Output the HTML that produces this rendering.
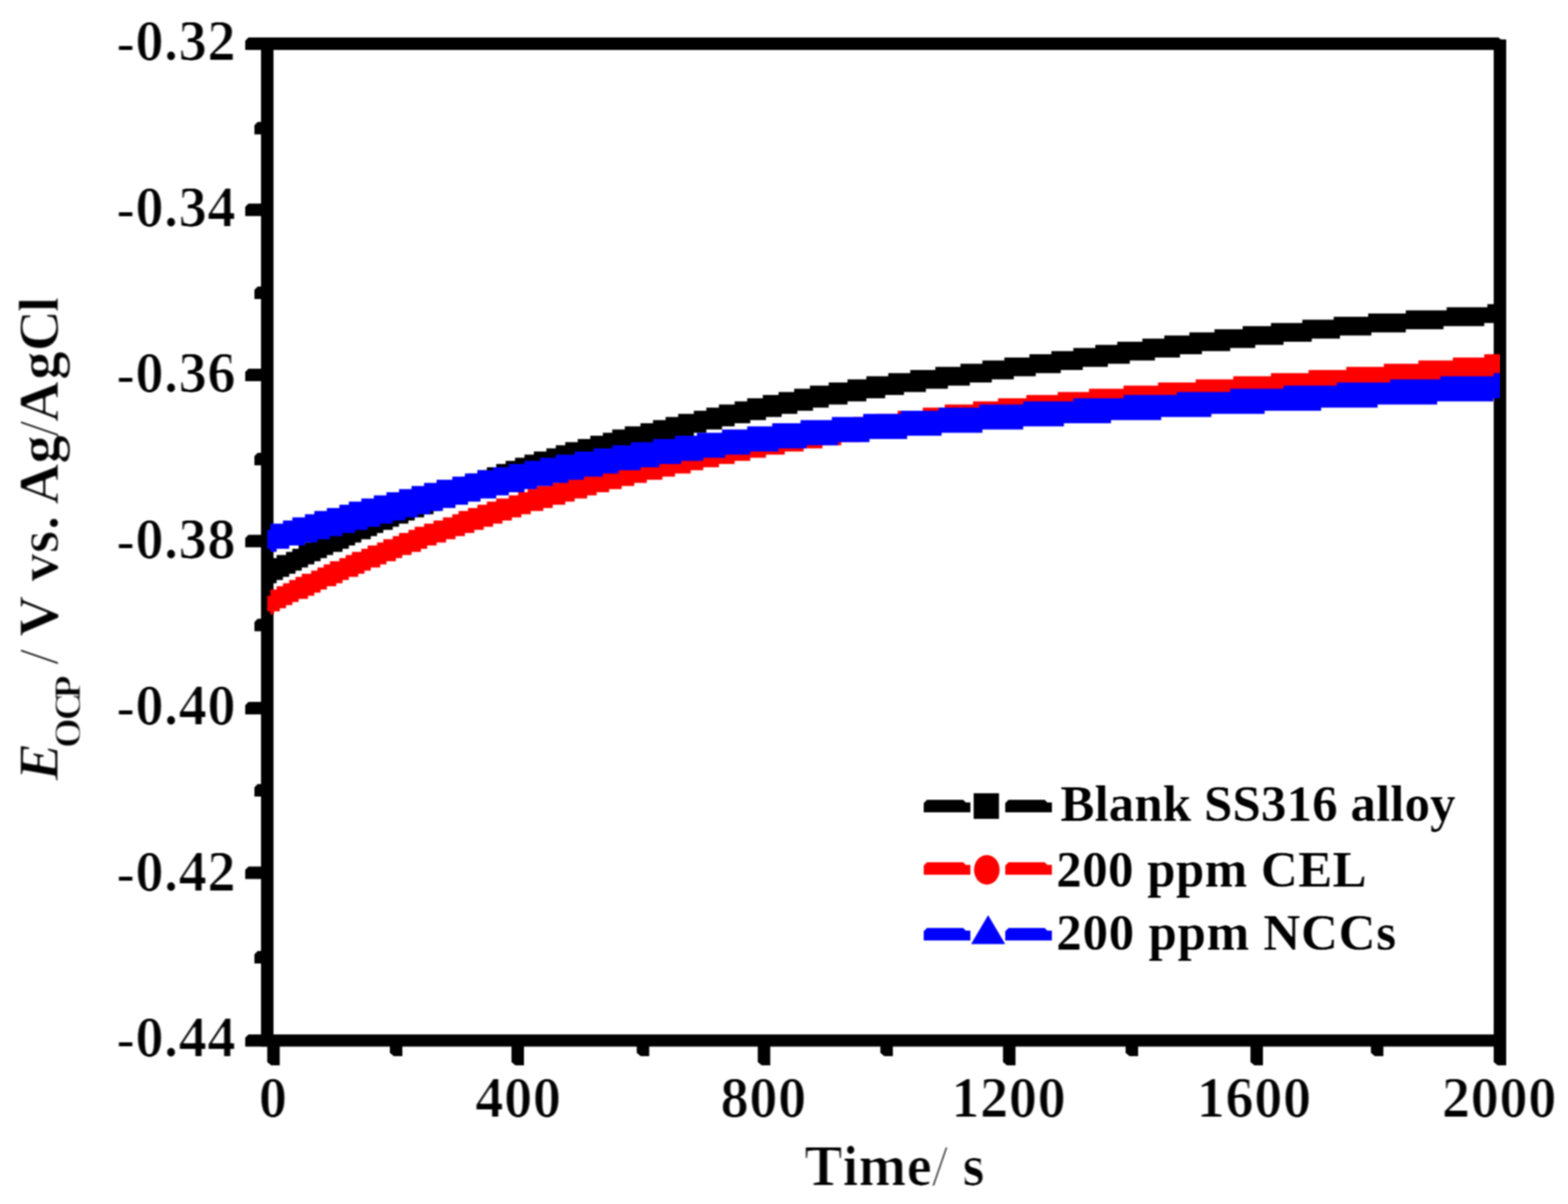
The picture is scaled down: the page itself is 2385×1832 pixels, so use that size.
<!DOCTYPE html>
<html lang="en"><head><meta charset="utf-8"><title>OCP vs time</title>
<style>
html,body{margin:0;padding:0;background:#fff}
body{width:2385px;height:1832px}
svg{display:block}
text{font-family:"Liberation Serif",serif;font-weight:bold;fill:#000;font-kerning:none;font-variant-ligatures:none;white-space:pre}
.soft{filter:url(#soft)}
.softL{filter:url(#softL)}
.soft2{filter:url(#soft2)}
.r{font-weight:normal}
.i{font-style:italic}
</style></head><body>
<svg width="2385" height="1832" viewBox="0 0 2385 1832" role="img" aria-label="Open circuit potential versus time">
<defs>
<filter id="soft" x="-5%" y="-20%" width="110%" height="140%" color-interpolation-filters="sRGB"><feGaussianBlur stdDeviation="1.4 0.45"/><feComponentTransfer><feFuncA type="linear" slope="2" intercept="-0.98"/></feComponentTransfer><feGaussianBlur stdDeviation="1"/></filter>
<filter id="softL" x="-5%" y="-20%" width="110%" height="140%" color-interpolation-filters="sRGB"><feGaussianBlur stdDeviation="1 0.45"/><feComponentTransfer><feFuncA type="linear" slope="1.8" intercept="-0.55"/></feComponentTransfer><feGaussianBlur stdDeviation="1"/></filter>
<filter id="soft2" x="-20%" y="-5%" width="140%" height="110%" color-interpolation-filters="sRGB"><feGaussianBlur stdDeviation="1"/><feComponentTransfer><feFuncA type="linear" slope="1.8" intercept="-0.8"/></feComponentTransfer><feGaussianBlur stdDeviation="1"/></filter>
<filter id="soft3" filterUnits="userSpaceOnUse" x="0" y="0" width="2385" height="1832" color-interpolation-filters="sRGB"><feGaussianBlur stdDeviation="1"/></filter>
<clipPath id="plotclip"><rect x="404.5" y="66.5" width="1877" height="1516.5"/></clipPath>
</defs>
<rect x="0" y="0" width="2385" height="1832" fill="#fff"/>
<g id="axes" fill="#000" stroke="none" filter="url(#soft3)">
<polygon points="378,57 2279,57 2283,60 2283,76 373,76 373,62"/>
<polygon points="378,1574 2291,1574 2291,1592.5 373,1592.5 373,1579"/>
<rect x="397" y="57" width="19" height="1535.5"/>
<polygon points="2272,60 2291,60 2291,1621 2278,1621 2272,1616"/>
<polygon points="392,185.5 399,185.5 399,204.5 387,204.5 387,190.5"/>
<polygon points="378,309.8 399,309.8 399,328.8 373,328.8 373,314.8"/>
<polygon points="392,436.1 399,436.1 399,455.1 387,455.1 387,441.1"/>
<polygon points="378,561 399,561 399,580 373,580 373,566"/>
<polygon points="392,688.9 399,688.9 399,707.9 387,707.9 387,693.9"/>
<polygon points="378,813.7 399,813.7 399,832.7 373,832.7 373,818.7"/>
<polygon points="392,941.6 399,941.6 399,960.6 387,960.6 387,946.6"/>
<polygon points="378,1068 399,1068 399,1087 373,1087 373,1073"/>
<polygon points="392,1193 399,1193 399,1212 387,1212 387,1198"/>
<polygon points="378,1318.5 399,1318.5 399,1337.5 373,1337.5 373,1323.5"/>
<polygon points="392,1447.1 399,1447.1 399,1466.1 387,1466.1 387,1452.1"/>
<polygon points="406.5,1583 425.5,1583 425.5,1621 412.5,1621 406.5,1616"/>
<polygon points="593,1583 612,1583 612,1607 599,1607 593,1602"/>
<polygon points="778,1583 797,1583 797,1621 784,1621 778,1616"/>
<polygon points="968.5,1583 987.5,1583 987.5,1607 974.5,1607 968.5,1602"/>
<polygon points="1152.6,1583 1171.6,1583 1171.6,1621 1158.6,1621 1152.6,1616"/>
<polygon points="1339.1,1583 1358.1,1583 1358.1,1607 1345.1,1607 1339.1,1602"/>
<polygon points="1525.6,1583 1544.6,1583 1544.6,1621 1531.6,1621 1525.6,1616"/>
<polygon points="1712.1,1583 1731.1,1583 1731.1,1607 1718.1,1607 1712.1,1602"/>
<polygon points="1902,1583 1921,1583 1921,1621 1908,1621 1902,1616"/>
<polygon points="2085.2,1583 2104.2,1583 2104.2,1607 2091.2,1607 2085.2,1602"/>
</g>
<g id="curves" clip-path="url(#plotclip)" filter="url(#soft3)">
<path fill="#000000" d="M406.5,854.0 L411.3,854.0 L411.3,849.2 L420.8,849.2 L420.8,844.4 L435.1,844.4 L435.1,839.7 L444.7,839.7 L444.7,834.9 L454.2,834.9 L454.2,830.1 L463.8,830.1 L463.8,825.4 L473.3,825.4 L473.3,820.6 L482.9,820.6 L482.9,815.8 L497.2,815.8 L497.2,811.0 L506.7,811.0 L506.7,806.3 L516.2,806.3 L516.2,801.5 L525.8,801.5 L525.8,796.7 L535.3,796.7 L535.3,792.0 L549.6,792.0 L549.6,787.2 L559.2,787.2 L559.2,782.4 L568.7,782.4 L568.7,777.6 L583.0,777.6 L583.0,772.9 L592.6,772.9 L592.6,768.1 L602.1,768.1 L602.1,763.3 L616.4,763.3 L616.4,758.6 L626.0,758.6 L626.0,753.8 L640.3,753.8 L640.3,749.0 L649.8,749.0 L649.8,744.2 L664.1,744.2 L664.1,739.5 L673.7,739.5 L673.7,734.7 L688.0,734.7 L688.0,729.9 L702.3,729.9 L702.3,725.2 L711.9,725.2 L711.9,720.4 L726.2,720.4 L726.2,715.6 L740.5,715.6 L740.5,710.9 L754.8,710.9 L754.8,706.1 L769.1,706.1 L769.1,701.3 L783.4,701.3 L783.4,696.5 L797.7,696.5 L797.7,691.8 L812.0,691.8 L812.0,687.0 L831.1,687.0 L831.1,682.2 L845.4,682.2 L845.4,677.5 L859.8,677.5 L859.8,672.7 L878.8,672.7 L878.8,667.9 L897.9,667.9 L897.9,663.1 L917.0,663.1 L917.0,658.4 L931.3,658.4 L931.3,653.6 L950.4,653.6 L950.4,648.8 L974.2,648.8 L974.2,644.1 L993.3,644.1 L993.3,639.3 L1012.4,639.3 L1012.4,634.5 L1031.5,634.5 L1031.5,629.8 L1055.4,629.8 L1055.4,625.0 L1074.4,625.0 L1074.4,620.2 L1093.5,620.2 L1093.5,615.4 L1117.4,615.4 L1117.4,610.7 L1136.5,610.7 L1136.5,605.9 L1160.3,605.9 L1160.3,601.1 L1184.2,601.1 L1184.2,596.4 L1208.0,596.4 L1208.0,591.6 L1231.9,591.6 L1231.9,586.8 L1260.5,586.8 L1260.5,582.0 L1289.1,582.0 L1289.1,577.3 L1317.7,577.3 L1317.8,572.5 L1351.1,572.5 L1351.1,567.7 L1384.5,567.7 L1384.5,563.0 L1422.7,563.0 L1422.7,558.2 L1460.9,558.2 L1460.9,553.4 L1494.3,553.4 L1494.3,548.6 L1527.7,548.6 L1527.7,543.9 L1565.8,543.9 L1565.8,539.1 L1599.2,539.1 L1599.2,534.3 L1632.6,534.3 L1632.6,529.6 L1666.0,529.6 L1666.0,524.8 L1699.4,524.8 L1699.4,520.0 L1737.6,520.0 L1737.6,515.2 L1771.0,515.2 L1771.0,510.5 L1809.1,510.5 L1809.1,505.7 L1847.3,505.7 L1847.3,500.9 L1890.2,500.9 L1890.2,496.2 L1933.2,496.2 L1933.2,491.4 L1980.9,491.4 L1980.9,486.6 L2028.6,486.6 L2028.6,481.9 L2081.1,481.9 L2081.1,477.1 L2138.3,477.1 L2138.3,472.3 L2200.4,472.3 L2200.4,467.5 L2262.4,467.5 L2262.4,462.8 L2286.2,462.8 L2286.2,491.4 L2257.6,491.4 L2257.6,496.2 L2195.6,496.2 L2195.6,500.9 L2138.3,500.9 L2138.3,505.7 L2085.9,505.7 L2085.9,510.5 L2038.1,510.5 L2038.1,515.2 L1995.2,515.2 L1995.2,520.0 L1952.3,520.0 L1952.3,524.8 L1909.3,524.8 L1909.3,529.6 L1871.2,529.6 L1871.2,534.3 L1828.2,534.3 L1828.2,539.1 L1794.8,539.1 L1794.8,543.9 L1756.7,543.9 L1756.7,548.6 L1718.5,548.6 L1718.5,553.4 L1685.1,553.4 L1685.1,558.2 L1646.9,558.2 L1646.9,563.0 L1613.5,563.0 L1613.5,567.7 L1575.4,567.7 L1575.4,572.5 L1542.0,572.5 L1542.0,577.3 L1508.6,577.3 L1508.6,582.0 L1475.2,582.0 L1475.2,586.8 L1441.8,586.8 L1441.8,591.6 L1408.4,591.6 L1408.4,596.4 L1375.0,596.4 L1375.0,601.1 L1346.4,601.1 L1346.4,605.9 L1317.8,605.9 L1317.7,610.7 L1289.1,610.7 L1289.1,615.4 L1260.5,615.4 L1260.5,620.2 L1236.6,620.2 L1236.6,625.0 L1212.8,625.0 L1212.8,629.8 L1188.9,629.8 L1188.9,634.5 L1165.1,634.5 L1165.1,639.3 L1141.2,639.3 L1141.2,644.1 L1117.4,644.1 L1117.4,648.8 L1098.3,648.8 L1098.3,653.6 L1074.4,653.6 L1074.4,658.4 L1055.4,658.4 L1055.4,663.1 L1036.3,663.1 L1036.3,667.9 L1017.2,667.9 L1017.2,672.7 L998.1,672.7 L998.1,677.5 L979.0,677.5 L979.0,682.2 L959.9,682.2 L959.9,687.0 L940.9,687.0 L940.9,691.8 L921.8,691.8 L921.8,696.5 L907.5,696.5 L907.5,701.3 L888.4,701.3 L888.4,706.1 L874.1,706.1 L874.1,710.9 L855.0,710.9 L855.0,715.6 L840.7,715.6 L840.7,720.4 L826.4,720.4 L826.4,725.2 L812.0,725.2 L812.0,729.9 L793.0,729.9 L793.0,734.7 L778.6,734.7 L778.6,739.5 L764.3,739.5 L764.3,744.2 L750.0,744.2 L750.0,749.0 L735.7,749.0 L735.7,753.8 L721.4,753.8 L721.4,758.6 L707.1,758.6 L707.1,763.3 L697.5,763.3 L697.5,768.1 L683.2,768.1 L683.2,772.9 L668.9,772.9 L668.9,777.6 L659.4,777.6 L659.4,782.4 L645.1,782.4 L645.1,787.2 L630.8,787.2 L630.8,792.0 L621.2,792.0 L621.2,796.7 L606.9,796.7 L606.9,801.5 L597.4,801.5 L597.4,806.3 L583.0,806.3 L583.0,811.0 L573.5,811.0 L573.5,815.8 L564.0,815.8 L564.0,820.6 L549.6,820.6 L549.6,825.4 L540.1,825.4 L540.1,830.1 L530.6,830.1 L530.6,834.9 L521.0,834.9 L521.0,839.7 L506.7,839.7 L506.7,844.4 L497.2,844.4 L497.2,849.2 L487.6,849.2 L487.6,854.0 L478.1,854.0 L478.1,858.8 L468.5,858.8 L468.5,863.5 L459.0,863.5 L459.0,868.3 L449.5,868.3 L449.5,873.1 L439.9,873.1 L439.9,877.8 L430.4,877.8 L430.4,882.6 L420.8,882.6 L420.8,887.4 L411.3,887.4 L411.3,892.1 L406.5,892.1Z"/>
<path fill="#ff0000" d="M406.5,906.5 L411.3,906.5 L411.3,896.9 L420.8,896.9 L420.8,892.1 L430.4,892.1 L430.4,887.4 L439.9,887.4 L439.9,882.6 L449.5,882.6 L449.5,877.8 L459.0,877.8 L459.0,873.1 L473.3,873.1 L473.3,868.3 L482.9,868.3 L482.9,863.5 L492.4,863.5 L492.4,858.8 L501.9,858.8 L501.9,854.0 L516.2,854.0 L516.2,849.2 L525.8,849.2 L525.8,844.4 L535.3,844.4 L535.3,839.7 L549.6,839.7 L549.6,834.9 L559.2,834.9 L559.2,830.1 L573.5,830.1 L573.5,825.4 L583.0,825.4 L583.0,820.6 L597.4,820.6 L597.4,815.8 L606.9,815.8 L606.9,811.0 L621.2,811.0 L621.2,806.3 L630.8,806.3 L630.8,801.5 L645.1,801.5 L645.1,796.7 L659.4,796.7 L659.4,792.0 L673.7,792.0 L673.7,787.2 L688.0,787.2 L688.0,782.4 L697.5,782.4 L697.5,777.6 L711.9,777.6 L711.9,772.9 L726.2,772.9 L726.2,768.1 L740.5,768.1 L740.5,763.3 L754.8,763.3 L754.8,758.6 L773.9,758.6 L773.9,753.8 L788.2,753.8 L788.2,749.0 L802.5,749.0 L802.5,744.2 L816.8,744.2 L816.8,739.5 L835.9,739.5 L835.9,734.7 L850.2,734.7 L850.2,729.9 L869.3,729.9 L869.3,725.2 L883.6,725.2 L883.6,720.4 L902.7,720.4 L902.7,715.6 L921.8,715.6 L921.8,710.9 L940.9,710.9 L940.9,706.1 L959.9,706.1 L959.9,701.3 L979.0,701.3 L979.0,696.5 L998.1,696.5 L998.1,691.8 L1022.0,691.8 L1022.0,687.0 L1041.0,687.0 L1041.0,682.2 L1064.9,682.2 L1064.9,677.5 L1084.0,677.5 L1084.0,672.7 L1107.8,672.7 L1107.8,667.9 L1131.7,667.9 L1131.7,663.1 L1160.3,663.1 L1160.3,658.4 L1184.2,658.4 L1184.2,653.6 L1212.8,653.6 L1212.8,648.8 L1241.4,648.8 L1241.4,644.1 L1270.0,644.1 L1270.0,639.3 L1298.7,639.3 L1298.7,634.5 L1332.1,634.5 L1332.1,629.8 L1365.5,629.8 L1365.5,625.0 L1403.6,625.0 L1403.6,620.2 L1437.0,620.2 L1437.0,615.4 L1480.0,615.4 L1480.0,610.7 L1518.1,610.7 L1518.1,605.9 L1561.1,605.9 L1561.1,601.1 L1608.8,601.1 L1608.8,596.4 L1656.5,596.4 L1656.5,591.6 L1709.0,591.6 L1709.0,586.8 L1761.4,586.8 L1761.4,582.0 L1818.7,582.0 L1818.7,577.3 L1875.9,577.3 L1875.9,572.5 L1933.2,572.5 L1933.2,567.7 L1990.4,567.7 L1990.4,563.0 L2047.7,563.0 L2047.7,558.2 L2104.9,558.2 L2104.9,553.4 L2157.4,553.4 L2157.4,548.6 L2209.9,548.6 L2209.9,543.9 L2257.6,543.9 L2257.6,539.1 L2286.2,539.1 L2286.2,572.5 L2271.9,572.5 L2271.9,577.3 L2224.2,577.3 L2224.2,582.0 L2171.7,582.0 L2171.7,586.8 L2119.2,586.8 L2119.2,591.6 L2066.8,591.6 L2066.8,596.4 L2009.5,596.4 L2009.5,601.1 L1952.3,601.1 L1952.3,605.9 L1895.0,605.9 L1895.0,610.7 L1837.8,610.7 L1837.8,615.4 L1780.5,615.4 L1780.5,620.2 L1728.0,620.2 L1728.0,625.0 L1675.6,625.0 L1675.6,629.8 L1623.1,629.8 L1623.1,634.5 L1580.1,634.5 L1580.1,639.3 L1532.4,639.3 L1532.4,644.1 L1489.5,644.1 L1489.5,648.8 L1451.3,648.8 L1451.3,653.6 L1413.2,653.6 L1413.2,658.4 L1375.0,658.4 L1375.0,663.1 L1341.6,663.1 L1341.6,667.9 L1308.2,667.9 L1308.2,672.7 L1279.6,672.7 L1279.6,677.5 L1251.0,677.5 L1251.0,682.2 L1222.3,682.2 L1222.3,687.0 L1193.7,687.0 L1193.7,691.8 L1165.1,691.8 L1165.1,696.5 L1141.2,696.5 L1141.2,701.3 L1117.4,701.3 L1117.4,706.1 L1093.5,706.1 L1093.5,710.9 L1069.7,710.9 L1069.7,715.6 L1050.6,715.6 L1050.6,720.4 L1026.7,720.4 L1026.7,725.2 L1007.6,725.2 L1007.6,729.9 L983.8,729.9 L983.8,734.7 L964.7,734.7 L964.7,739.5 L945.6,739.5 L945.6,744.2 L926.5,744.2 L926.5,749.0 L907.5,749.0 L907.5,753.8 L893.1,753.8 L893.1,758.6 L874.1,758.6 L874.1,763.3 L859.8,763.3 L859.8,768.1 L840.7,768.1 L840.7,772.9 L826.4,772.9 L826.4,777.6 L807.3,777.6 L807.3,782.4 L793.0,782.4 L793.0,787.2 L778.6,787.2 L778.6,792.0 L764.3,792.0 L764.3,796.7 L750.0,796.7 L750.0,801.5 L735.7,801.5 L735.7,806.3 L721.4,806.3 L721.4,811.0 L707.1,811.0 L707.1,815.8 L692.8,815.8 L692.8,820.6 L678.5,820.6 L678.5,825.4 L664.1,825.4 L664.1,830.1 L649.8,830.1 L649.8,834.9 L640.3,834.9 L640.3,839.7 L626.0,839.7 L626.0,844.4 L611.7,844.4 L611.7,849.2 L602.1,849.2 L602.1,854.0 L587.8,854.0 L587.8,858.8 L578.3,858.8 L578.3,863.5 L564.0,863.5 L564.0,868.3 L554.4,868.3 L554.4,873.1 L544.9,873.1 L544.9,877.8 L530.6,877.8 L530.6,882.6 L521.0,882.6 L521.0,887.4 L511.5,887.4 L511.5,892.1 L497.2,892.1 L497.2,896.9 L487.6,896.9 L487.6,901.7 L478.1,901.7 L478.1,906.5 L468.5,906.5 L468.5,911.2 L454.2,911.2 L454.2,916.0 L444.7,916.0 L444.7,920.8 L435.1,920.8 L435.1,925.5 L425.6,925.5 L425.6,930.3 L416.1,930.3 L416.1,935.1 L411.3,935.1 L411.3,930.3 L406.5,930.3Z"/>
<path fill="#0000ff" d="M406.5,806.3 L411.3,806.3 L411.3,796.7 L430.4,796.7 L430.4,792.0 L444.7,792.0 L444.7,787.2 L463.8,787.2 L463.8,782.4 L478.1,782.4 L478.1,777.6 L497.2,777.6 L497.2,772.9 L516.2,772.9 L516.2,768.1 L530.6,768.1 L530.6,763.3 L549.6,763.3 L549.6,758.6 L568.7,758.6 L568.7,753.8 L587.8,753.8 L587.8,749.0 L606.9,749.0 L606.9,744.2 L626.0,744.2 L626.0,739.5 L645.1,739.5 L645.1,734.7 L664.1,734.7 L664.1,729.9 L688.0,729.9 L688.0,725.2 L707.1,725.2 L707.1,720.4 L726.2,720.4 L726.2,715.6 L750.0,715.6 L750.0,710.9 L773.9,710.9 L773.9,706.1 L797.7,706.1 L797.7,701.3 L821.6,701.3 L821.6,696.5 L845.4,696.5 L845.4,691.8 L874.1,691.8 L874.1,687.0 L902.7,687.0 L902.7,682.2 L931.3,682.2 L931.3,677.5 L959.9,677.5 L959.9,672.7 L993.3,672.7 L993.3,667.9 L1026.7,667.9 L1026.7,663.1 L1060.1,663.1 L1060.1,658.4 L1098.3,658.4 L1098.3,653.6 L1136.5,653.6 L1136.5,648.8 L1174.6,648.8 L1174.6,644.1 L1217.6,644.1 L1217.6,639.3 L1265.3,639.3 L1265.3,634.5 L1313.0,634.5 L1313.0,629.8 L1370.2,629.8 L1370.2,625.0 L1427.5,625.0 L1427.5,620.2 L1489.5,620.2 L1489.5,615.4 L1556.3,615.4 L1556.3,610.7 L1632.6,610.7 L1632.6,605.9 L1709.0,605.9 L1709.0,601.1 L1790.1,601.1 L1790.1,596.4 L1871.2,596.4 L1871.2,591.6 L1952.3,591.6 L1952.3,586.8 L2033.4,586.8 L2033.4,582.0 L2114.5,582.0 L2114.5,577.3 L2190.8,577.3 L2190.8,572.5 L2271.9,572.5 L2271.9,567.7 L2286.2,567.7 L2286.2,605.9 L2271.9,605.9 L2271.9,610.7 L2186.0,610.7 L2186.0,615.4 L2095.4,615.4 L2095.4,620.2 L2009.5,620.2 L2009.5,625.0 L1923.6,625.0 L1923.6,629.8 L1842.5,629.8 L1842.5,634.5 L1766.2,634.5 L1766.2,639.3 L1689.9,639.3 L1689.9,644.1 L1618.3,644.1 L1618.3,648.8 L1556.3,648.8 L1556.3,653.6 L1494.3,653.6 L1494.3,658.4 L1432.2,658.4 L1432.2,663.1 L1379.8,663.1 L1379.8,667.9 L1322.5,667.9 L1322.5,672.7 L1274.8,672.7 L1274.8,677.5 L1227.1,677.5 L1227.1,682.2 L1184.2,682.2 L1184.2,687.0 L1141.2,687.0 L1141.2,691.8 L1103.1,691.8 L1103.1,696.5 L1069.7,696.5 L1069.7,701.3 L1036.3,701.3 L1036.3,706.1 L1002.9,706.1 L1002.9,710.9 L974.2,710.9 L974.2,715.6 L940.9,715.6 L940.9,720.4 L917.0,720.4 L917.0,725.2 L888.4,725.2 L888.4,729.9 L864.5,729.9 L864.5,734.7 L840.7,734.7 L840.7,739.5 L816.8,739.5 L816.8,744.2 L797.7,744.2 L797.7,749.0 L773.9,749.0 L773.9,753.8 L754.8,753.8 L754.8,758.6 L730.9,758.6 L730.9,763.3 L711.9,763.3 L711.9,768.1 L692.8,768.1 L692.8,772.9 L673.7,772.9 L673.7,777.6 L654.6,777.6 L654.6,782.4 L635.5,782.4 L635.5,787.2 L616.4,787.2 L616.4,792.0 L597.4,792.0 L597.4,796.7 L578.3,796.7 L578.3,801.5 L559.2,801.5 L559.2,806.3 L540.1,806.3 L540.1,811.0 L521.0,811.0 L521.0,815.8 L501.9,815.8 L501.9,820.6 L482.9,820.6 L482.9,825.4 L463.8,825.4 L463.8,830.1 L439.9,830.1 L439.9,834.9 L420.8,834.9 L420.8,839.7 L411.3,839.7 L411.3,834.9 L406.5,834.9Z"/>
</g>
<g id="ticklabels" class="soft" font-size="87.5">
<text x="358.7" y="90.7" text-anchor="end"><tspan class="r" dy="2">-</tspan><tspan dy="-2">0.32</tspan></text>
<text x="358.7" y="343.5" text-anchor="end"><tspan class="r" dy="2">-</tspan><tspan dy="-2">0.34</tspan></text>
<text x="358.7" y="596.2" text-anchor="end"><tspan class="r" dy="2">-</tspan><tspan dy="-2">0.36</tspan></text>
<text x="358.7" y="849" text-anchor="end"><tspan class="r" dy="2">-</tspan><tspan dy="-2">0.38</tspan></text>
<text x="358.7" y="1101.7" text-anchor="end"><tspan class="r" dy="2">-</tspan><tspan dy="-2">0.40</tspan></text>
<text x="358.7" y="1354.5" text-anchor="end"><tspan class="r" dy="2">-</tspan><tspan dy="-2">0.42</tspan></text>
<text x="358.7" y="1607.2" text-anchor="end"><tspan class="r" dy="2">-</tspan><tspan dy="-2">0.44</tspan></text>
<text x="415" y="1698.6" text-anchor="middle">0</text>
<text x="788" y="1698.6" text-anchor="middle">400</text>
<text x="1161.1" y="1698.6" text-anchor="middle">800</text>
<text x="1534.1" y="1698.6" text-anchor="middle">1200</text>
<text x="1907.2" y="1698.6" text-anchor="middle">1600</text>
<text x="2280.2" y="1698.6" text-anchor="middle">2000</text>
<text x="1360.5" y="1803.2" text-anchor="middle">Time<tspan class="r">/</tspan> s</text>
</g>
<g id="ytitle" class="soft2" transform="translate(88 1189) rotate(-90)">
<text x="0.7" y="0" font-size="87" class="i">E</text>
<text x="51 93.1 126" y="34" font-size="58">OCP</text>
<text x="177.5 201.7 220.1 283 303.8 347.6 382.5 404.3 420.9 483.5 524.8 546.4 611.1 654.4 713.6" y="0" font-size="87"><tspan class="r">/</tspan> V vs. Ag<tspan class="r">/</tspan>AgCl</text>
</g>
<g id="legend">
<g fill="#000000" filter="url(#soft3)">
<polygon points="1410,1217 1465,1217 1469,1221 1476,1221 1476,1236 1405,1236 1405,1222"/>
<polygon points="1534,1217 1589,1217 1593,1221 1600,1221 1600,1236 1529,1236 1529,1222"/>
<rect x="1481" y="1207" width="38.5" height="39"/>
</g>
<text class="softL" x="1612.7" y="1249.2" font-size="78" textLength="601.4" lengthAdjust="spacing">Blank SS316 alloy</text>
<g fill="#ff0000" filter="url(#soft3)">
<polygon points="1410,1312 1465,1312 1469,1316 1476,1316 1476,1331 1405,1331 1405,1317"/>
<polygon points="1534,1312 1589,1312 1593,1316 1600,1316 1600,1331 1529,1331 1529,1317"/>
<ellipse cx="1501" cy="1323.5" rx="19.5" ry="22.5"/>
</g>
<text class="softL" x="1606.5" y="1349.2" font-size="78" textLength="472.4" lengthAdjust="spacing">200 ppm CEL</text>
<g fill="#0000ff" filter="url(#soft3)">
<polygon points="1410,1412 1465,1412 1469,1416 1476,1416 1476,1431 1405,1431 1405,1417"/>
<polygon points="1534,1412 1589,1412 1593,1416 1600,1416 1600,1431 1529,1431 1529,1417"/>
<polygon points="1503,1392.5 1529,1436.5 1477,1436.5"/>
</g>
<text class="softL" x="1606.5" y="1445" font-size="78" textLength="517.2" lengthAdjust="spacing">200 ppm NCCs</text>
</g>
</svg></body></html>
